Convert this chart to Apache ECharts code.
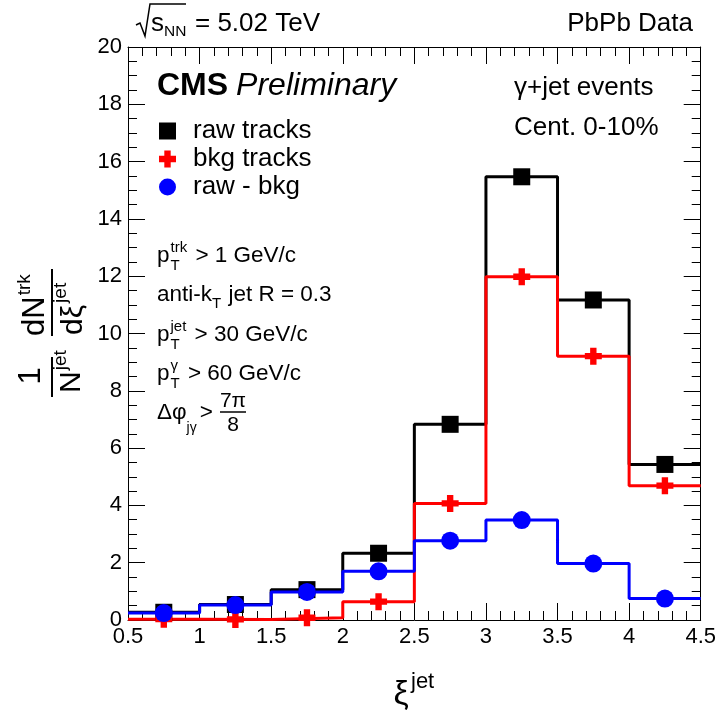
<!DOCTYPE html>
<html>
<head>
<meta charset="utf-8">
<script src="https://cdn.jsdelivr.net/npm/echarts@6/dist/echarts.min.js"></script>
<style>html,body{margin:0;padding:0;background:#fff;}#c{width:719px;height:713px;}</style>
</head>
<body>
<div id="c"></div>
<script>
// ---- data ----
const binEdges = [0.5, 1, 1.5, 2, 2.5, 3, 3.5, 4, 4.5];
const binCenters = [0.75, 1.25, 1.75, 2.25, 2.75, 3.25, 3.75, 4.25];
const rawTracks = [0.27, 0.54, 1.06, 2.33, 6.83, 15.47, 11.17, 5.43];
const bkgTracks = [0.03, 0.02, 0.08, 0.64, 4.07, 11.98, 9.21, 4.69];
const rawMinusBkg = [0.24, 0.52, 0.98, 1.70, 2.77, 3.49, 1.97, 0.75];
const xTicks = { min: 0.5, max: 4.5, interval: 0.5 };
const yTicks = { min: 0, max: 20, interval: 2 };

// ---- helpers ----
const FONT = '"Liberation Sans", Arial, Helvetica, sans-serif';
const mctx = document.createElement('canvas').getContext('2d');
function tw(t, size, style, weight) {
  mctx.font = (style || 'normal') + ' ' + (weight || 'normal') + ' ' + size + 'px ' + FONT;
  return mctx.measureText(t).width;
}
function T(x, y, text, size, extra) {
  return { type: 'text', x: x, y: y, z: 100, silent: true,
    style: Object.assign({ text: text, fontSize: size, fontFamily: FONT, fill: '#000',
      align: 'left', verticalAlign: 'middle' }, extra || {}) };
}
function L(x1, y1, x2, y2, w) {
  return { type: 'line', z: 100, silent: true, shape: { x1: x1, y1: y1, x2: x2, y2: y2 },
    style: { stroke: '#000', lineWidth: w || 1.5 } };
}
function edgeSeries(vals) {
  return binEdges.map((e, i) => [e, vals[Math.min(i, vals.length - 1)]]);
}
function pts(vals) { return binCenters.map((c, i) => [c, vals[i]]); }

function pLine(x, y, sup, sub, rest, size) {
  const ss = 15;
  const els = [T(x, y, 'p', size)];
  const px = x + tw('p', size) + 1;
  els.push(T(px, y - 8, sup, ss));
  els.push(T(px, y + 10, sub, ss));
  const adv = Math.max(tw(sup, ss), tw(sub, ss));
  els.push(T(px + adv + 2, y, rest, size));
  return els;
}

const graphics = [];
// top labels
graphics.push({ type: 'polyline', z: 100, silent: true,
  shape: { points: [[136, 25], [140, 23], [145, 36], [150, 4], [186, 4]] },
  style: { stroke: '#000', lineWidth: 1.5, fill: null } });
graphics.push(T(151, 24, 's', 26));
graphics.push(T(151 + tw('s', 26), 32, 'NN', 15.5));
graphics.push(T(195, 24, '= 5.02 TeV', 26));
graphics.push(T(693, 24, 'PbPb Data', 26, { align: 'right' }));
// CMS Preliminary
graphics.push(T(157, 86, 'CMS', 32, { fontWeight: 'bold' }));
graphics.push(T(157 + tw('CMS', 32, 'normal', 'bold') + 8, 86, 'Preliminary', 32, { fontStyle: 'italic' }));
// right texts
graphics.push(T(514, 88, 'γ+jet events', 26));
graphics.push(T(514, 128, 'Cent. 0-10%', 26));
// selections
const S = 22.5;
graphics.push(...pLine(157, 256, 'trk', 'T', ' > 1 GeV/c', S));
graphics.push(T(157, 295, 'anti-k', S));
let ax = 157 + tw('anti-k', S);
graphics.push(T(ax, 304, 'T', 15));
graphics.push(T(ax + tw('T', 15) + 1, 295, ' jet R = 0.3', S));
graphics.push(...pLine(157, 335, 'jet', 'T', ' > 30 GeV/c', S));
graphics.push(...pLine(157, 374, 'γ', 'T', ' > 60 GeV/c', S));
graphics.push(T(157, 413, 'Δφ', S));
let dx = 157 + tw('Δφ', S);
graphics.push(T(dx, 428, 'jγ', 14));
graphics.push(T(dx + tw('jγ', 14) + 3, 413, '>', S));
graphics.push(T(233, 401, '7π', 21, { align: 'center' }));
graphics.push(L(220, 412, 246, 412, 1.5));
graphics.push(T(233, 425, '8', 21, { align: 'center' }));
// x title
graphics.push(T(401, 695, 'ξ', 34, { align: 'center' }));
graphics.push(T(411, 682, 'jet', 22));
// y title (rotated group)
graphics.push({ type: 'group', x: 52, y: 400, rotation: Math.PI / 2, silent: true, children: [
  L(3, 0, 43, 0, 2),
  T(24, -21, '1', 31, { align: 'center' }),
  T(7, 20, 'N', 30),
  T(7 + tw('N', 30) + 1, 9, 'jet', 19),
  L(64, 0, 131, 0, 2),
  T(64, -17, 'dN', 31),
  T(64 + tw('dN', 31) + 1, -27, 'trk', 19),
  T(65, 22, 'dξ', 30),
  T(65 + tw('dξ', 30) + 2, 9, 'jet', 19)
]});

const crossPath = 'path://M5,0H11V5H16V11H11V16H5V11H0V5H5Z';

const axisCommon = {
  type: 'value', splitLine: { show: false },
  axisLine: { show: true, onZero: false, lineStyle: { color: '#000', width: 1 } },
  axisTick: { show: true, inside: true, length: 17, lineStyle: { color: '#000', width: 1 } }
};
const labelStyle = { color: '#000', fontSize: 22, fontFamily: FONT, showMinLabel: true, showMaxLabel: true };

const option = {
  animation: false,
  backgroundColor: '#fff',
  grid: { left: 128, right: 18, top: 47, bottom: 93, containLabel: false },
  xAxis: [
    Object.assign({}, axisCommon, { position: 'bottom', min: xTicks.min, max: xTicks.max, interval: xTicks.interval,
      minorTick: { show: true, splitNumber: 5, length: 9, lineStyle: { color: '#000' } },
      axisLabel: Object.assign({ margin: 6 }, labelStyle) }),
    Object.assign({}, axisCommon, { position: 'top', min: xTicks.min, max: xTicks.max, interval: xTicks.interval,
      minorTick: { show: true, splitNumber: 5, length: 9, lineStyle: { color: '#000' } },
      axisLabel: { show: false } })
  ],
  yAxis: [
    Object.assign({}, axisCommon, { position: 'left', min: yTicks.min, max: yTicks.max, interval: yTicks.interval,
      minorTick: { show: true, splitNumber: 4, length: 9, lineStyle: { color: '#000' } },
      axisLabel: Object.assign({ margin: 6 }, labelStyle) }),
    Object.assign({}, axisCommon, { position: 'right', min: yTicks.min, max: yTicks.max, interval: yTicks.interval,
      minorTick: { show: true, splitNumber: 4, length: 9, lineStyle: { color: '#000' } },
      axisLabel: { show: false } })
  ],
  legend: {
    data: ['raw tracks', 'bkg tracks', 'raw - bkg'],
    orient: 'vertical', left: 159, top: 117, padding: 0,
    itemWidth: 17, itemHeight: 17, itemGap: 0,
    itemStyle: { opacity: 1 },
    textStyle: { fontSize: 26, fontFamily: FONT, color: '#000', lineHeight: 28, padding: [0, 0, 0, 12] },
    selectedMode: false
  },
  series: [
    { name: 'raw hist', type: 'line', step: 'end', data: edgeSeries(rawTracks), showSymbol: false, symbol: 'none',
      lineStyle: { color: '#000', width: 3 }, z: 2 },
    { name: 'bkg hist', type: 'line', step: 'end', data: edgeSeries(bkgTracks), showSymbol: false, symbol: 'none',
      lineStyle: { color: '#ff0000', width: 3 }, z: 3 },
    { name: 'sub hist', type: 'line', step: 'end', data: edgeSeries(rawMinusBkg), showSymbol: false, symbol: 'none',
      lineStyle: { color: '#0000ff', width: 3 }, z: 4 },
    { name: 'raw tracks', type: 'scatter', data: pts(rawTracks), symbol: 'rect', symbolSize: 17,
      itemStyle: { color: '#000', opacity: 1 }, z: 5 },
    { name: 'bkg tracks', type: 'scatter', data: pts(bkgTracks), symbol: crossPath, symbolSize: 17,
      itemStyle: { color: '#ff0000', opacity: 1 }, z: 6 },
    { name: 'raw - bkg', type: 'scatter', data: pts(rawMinusBkg), symbol: 'circle', symbolSize: 18,
      itemStyle: { color: '#0000ff', opacity: 1 }, z: 7 }
  ],
  graphic: graphics
};

const chart = echarts.init(document.getElementById('c'), null, { renderer: 'canvas' });
chart.setOption(option);
</script>
</body>
</html>
